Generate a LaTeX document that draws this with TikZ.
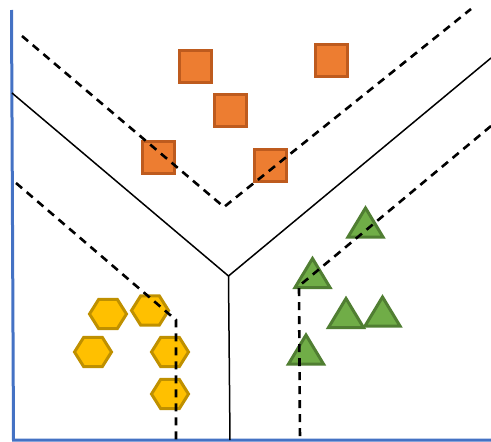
\documentclass[tikz,border=0pt]{standalone}
\usetikzlibrary{calc}
\definecolor{axisblue}{HTML}{4472C4}
\definecolor{sqfill}{HTML}{ED7D31}
\definecolor{sqline}{HTML}{BE5B1E}
\definecolor{hexfill}{HTML}{FFC000}
\definecolor{hexline}{HTML}{BF9000}
\definecolor{trifill}{HTML}{70AD47}
\definecolor{triline}{HTML}{507E32}
\tikzset{
  axisline/.style={axisblue, line width=3pt},
  boundary/.style={black, line width=1.5pt},
  marginline/.style={black, line width=2.6pt, dash pattern=on 8pt off 6pt},
  sqmark/.style={draw=sqline, fill=sqfill, line width=3pt, minimum size=32pt, inner sep=0pt, outer sep=0pt},
  hexmark/.style={draw=hexline, fill=hexfill, line width=3pt, line join=miter},
  trimark/.style={draw=triline, fill=trifill, line width=3pt, line join=miter},
}
\begin{document}
\begin{tikzpicture}[x=1pt, y=-1pt]
  \useasboundingbox (0,0) rectangle (491,442);

  % class 1: squares
  \node[sqmark] (s1) at (195.5,66) {};
  \node[sqmark] (s2) at (230,110) {};
  \node[sqmark] (s3) at (158,157.5) {};
  \node[sqmark] (s4) at (331,60) {};
  \node[sqmark] (s5) at (270,165.5) {};

  % class 2: hexagons
  \foreach \cx/\cy in {108/314, 150/310.5, 93/352, 170/352, 170/394} {
    \draw[hexmark] (\cx,\cy) +(0:18.5 and 17) -- +(60:18.5 and 17) -- +(120:18.5 and 17)
      -- +(180:18.5 and 17) -- +(240:18.5 and 17) -- +(300:18.5 and 17) -- cycle;
  }

  % class 3: triangles (apex x, apex y)
  \foreach \ax/\ay in {365.5/208, 312.5/258.5, 346/298.5, 382.5/297, 306/335} {
    \draw[trimark] (\ax,\ay) -- ++(17.5,29) -- ++(-35,0) -- cycle;
  }

  % axes
  \coordinate (ytop) at (11.5,10);
  \coordinate (origin) at (13.5,440);
  \coordinate (xend) at (491,440);
  \draw[axisline] (ytop) -- (origin) -- (xend);

  % decision boundaries
  \coordinate (bl) at (12,93);
  \coordinate (bc) at (228.5,276);
  \coordinate (br) at (491,58);
  \coordinate (bb) at (230,440);
  \draw[boundary] (bl) -- (bc) -- (br);
  \draw[boundary] (bc) -- (bb);

  % margins
  \coordinate (m1a) at (22,36);
  \coordinate (m1b) at (224,207);
  \coordinate (m1c) at (471,9);
  \draw[marginline] (m1a) -- (m1b) -- (m1c);

  \coordinate (m2a) at (16,183);
  \coordinate (m2b) at (176,320);
  \coordinate (m2c) at (176,440);
  \draw[marginline] (m2a) -- (m2b) -- (m2c);

  \coordinate (m3a) at (491,126);
  \coordinate (m3b) at (299,286);
  \coordinate (m3c) at (300,440);
  \draw[marginline] (m3a) -- (m3b) -- (m3c);
\end{tikzpicture}
\end{document}
